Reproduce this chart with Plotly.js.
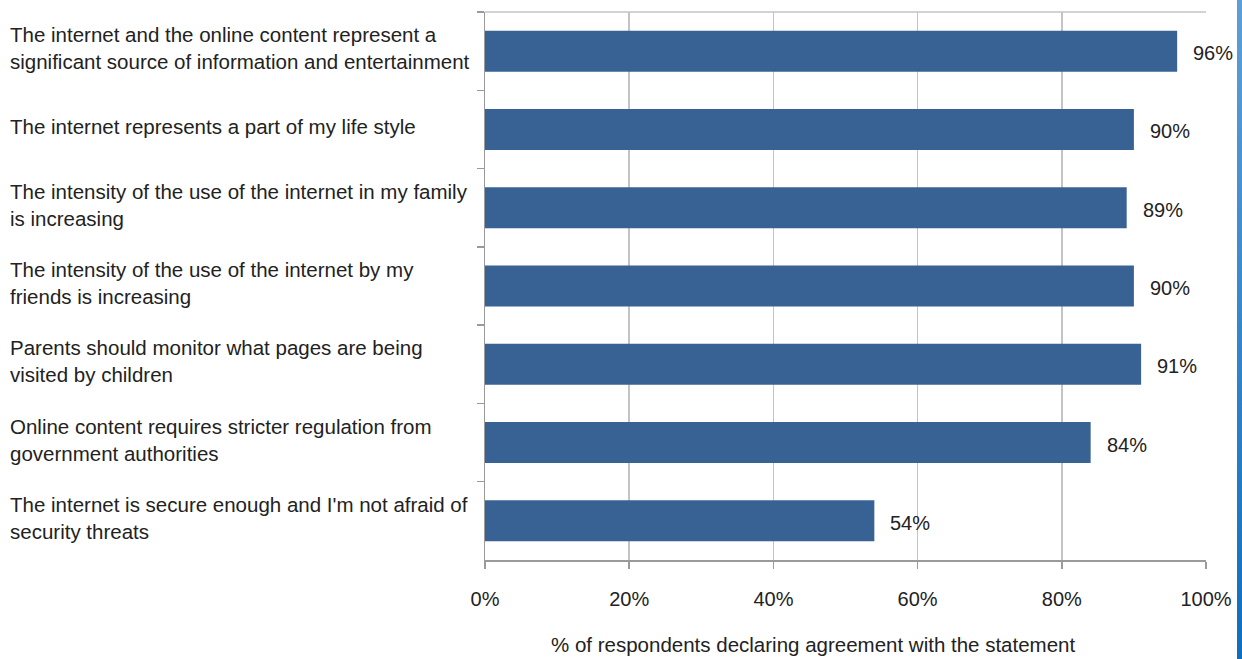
<!DOCTYPE html>
<html>
<head>
<meta charset="utf-8">
<script src="https://cdn.plot.ly/plotly-3.0.1.min.js"></script>
<style>
html,body{margin:0;padding:0;background:#fff;overflow:hidden;}
#chart{width:1242px;height:659px;}
#strip{position:absolute;left:1237px;top:0;width:5px;height:659px;background:linear-gradient(#5d9fd8,#0b6fc0);}
</style>
</head>
<body>
<div id="chart"></div>
<div id="strip"></div>
<script>
const categories = [
  "The internet and the online content represent a<br>significant source of information and entertainment",
  "The internet represents a part of my life style",
  "The intensity of the use of the internet in my family<br>is increasing",
  "The intensity of the use of the internet by my<br>friends is increasing",
  "Parents should monitor what pages are being<br>visited by children",
  "Online content requires stricter regulation from<br>government authorities",
  "The internet is secure enough and I'm not afraid of<br>security threats"
];
const values = [96, 90, 89, 90, 91, 84, 54];
const xTickVals = [0, 20, 40, 60, 80, 100];
const xTickText = ["0%", "20%", "40%", "60%", "80%", "100%"];
const xTitle = "% of respondents declaring agreement with the statement";

const font = "Liberation Sans, Arial, Helvetica, sans-serif";
const ids = categories.map((c, i) => "c" + i);

const annotations = [];
categories.forEach((c, i) => {
  annotations.push({
    xref: "paper", yref: "y", x: -0.6615, y: ids[i],
    xanchor: "left", yanchor: "middle", align: "left", yshift: 3,
    text: c, showarrow: false,
    font: {family: font, size: 20.5, color: "#222"}
  });
  annotations.push({
    xref: "x", yref: "y", x: values[i], y: ids[i],
    xanchor: "left", yanchor: "middle", xshift: 14, yshift: -2,
    text: values[i] + "%", showarrow: false,
    font: {family: font, size: 20, color: "#222"}
  });
});
annotations.push({
  xref: "paper", yref: "paper", x: 0.455, y: -0.1551,
  xanchor: "center", yanchor: "middle",
  text: xTitle, showarrow: false,
  font: {family: font, size: 20.5, color: "#222"}
});

Plotly.newPlot("chart", [{
  type: "bar", orientation: "h",
  x: values, y: ids,
  marker: {color: "#386293"},
  hoverinfo: "skip"
}], {
  width: 1242, height: 659,
  margin: {l: 485, r: 36, t: 12, b: 99},
  paper_bgcolor: "#fff", plot_bgcolor: "#fff",
  bargap: 0.476,
  showlegend: false,
  font: {family: font, color: "#222"},
  xaxis: {
    range: [0, 100], tickvals: xTickVals, ticktext: xTickText,
    showgrid: true, gridcolor: "#c4c4c4", gridwidth: 1.5,
    showline: true, linecolor: "#9a9a9a", linewidth: 1.5,
    ticks: "outside", ticklen: 7, tickcolor: "#9a9a9a", tickwidth: 1.5,
    ticklabelstandoff: 13,
    tickfont: {family: font, size: 20, color: "#222"},
    zeroline: false, fixedrange: true,
    title: {text: ""}
  },
  yaxis: {
    type: "category", autorange: "reversed",
    showticklabels: false,
    showline: true, linecolor: "#9a9a9a", linewidth: 1.5,
    ticks: "outside", ticklen: 7, tickcolor: "#9a9a9a", tickwidth: 1.5,
    tickson: "boundaries", showgrid: false, zeroline: false, fixedrange: true
  },
  shapes: [{
    type: "line", xref: "paper", yref: "paper", x0: 0, x1: 1, y0: 1, y1: 1,
    line: {color: "#c4c4c4", width: 1.5}
  }],
  annotations: annotations
}, {displayModeBar: false, staticPlot: true});
</script>
</body>
</html>
